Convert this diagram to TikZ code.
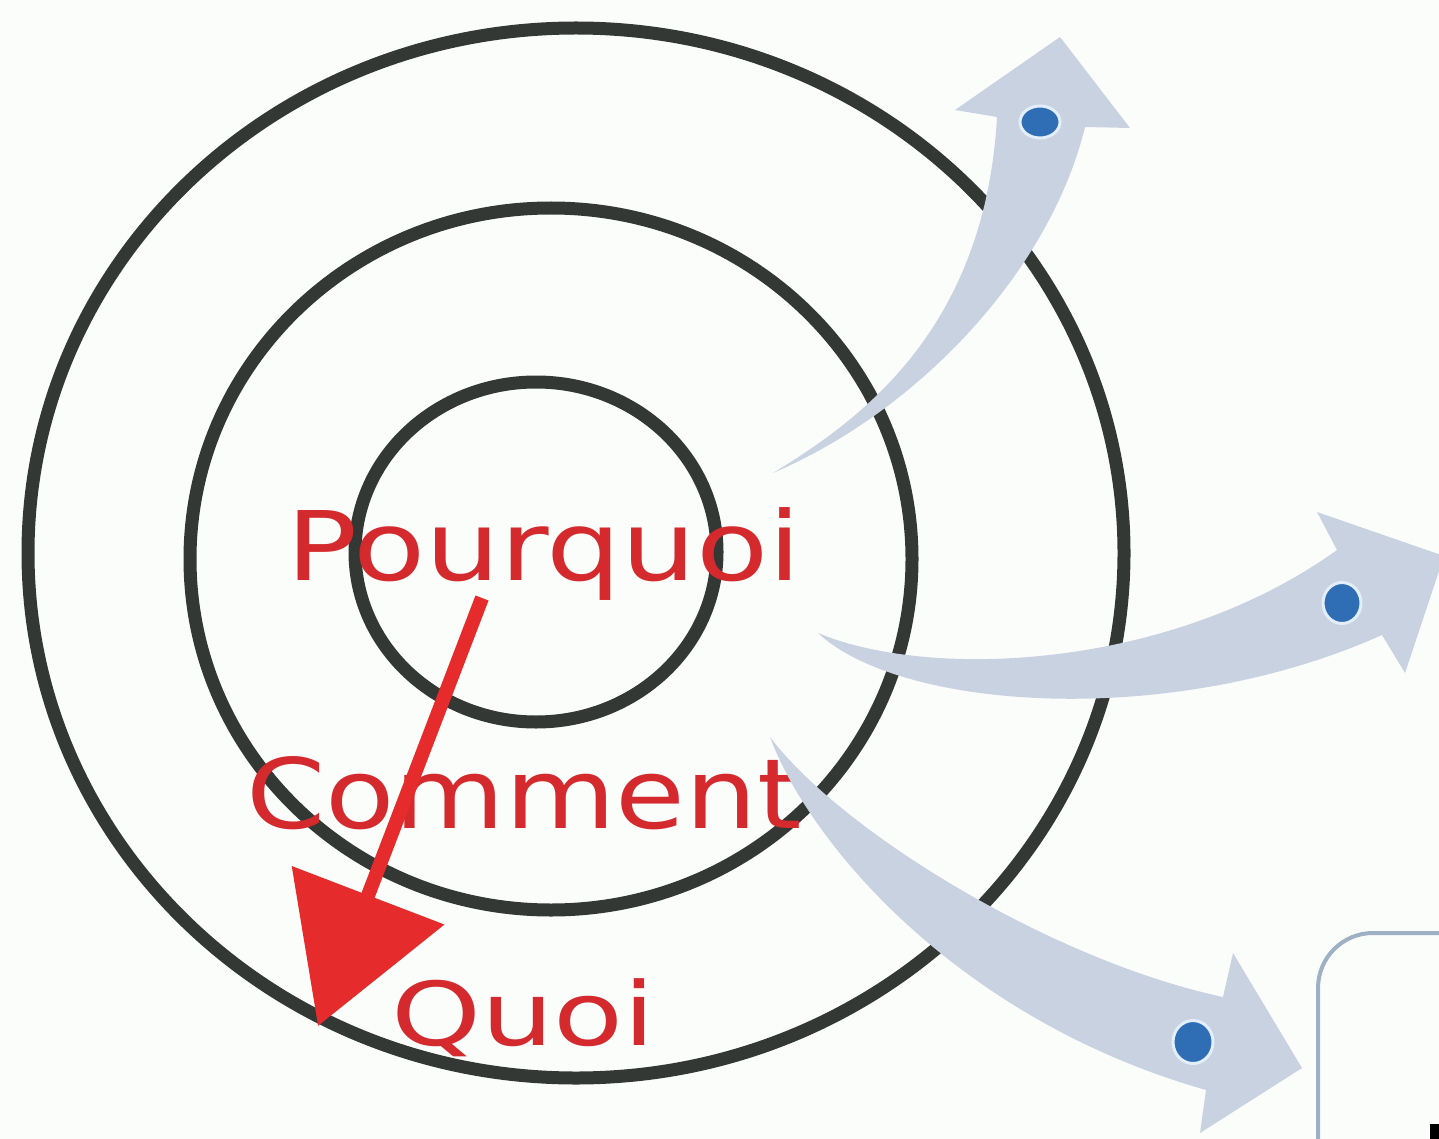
\documentclass[tikz,border=0pt]{standalone}
\usepackage{fontspec}
\setmainfont{DejaVu Sans}
\usetikzlibrary{arrows.meta,shapes.geometric}
\definecolor{ring}{HTML}{333835}
\definecolor{redtxt}{HTML}{D42A2E}
\definecolor{redarr}{HTML}{E52B2B}
\definecolor{arrowfill}{HTML}{C9D2E0}
\definecolor{dotblue}{HTML}{2F6DB5}
\definecolor{dotrim}{HTML}{E2EEF9}
\definecolor{boxline}{HTML}{9DB0C4}
\definecolor{bg}{HTML}{FBFDFB}
\begin{document}
\begin{tikzpicture}[x=1pt,y=-1pt,
  ringline/.style={draw=ring,line width=13pt},
  word/.style={text=redtxt,anchor=base west,inner sep=0pt},
  bluearrow/.style={fill=arrowfill},
  bluedot/.style={ellipse,fill=dotblue,draw=dotrim,line width=3pt,inner sep=0pt}]
\fill[bg] (0,0) rectangle (1439,1139);
\useasboundingbox (0,0) rectangle (1439,1139);
\clip (0,0) rectangle (1439,1139);
% rings
\draw[ringline] (576,553) ellipse [x radius=548pt, y radius=525pt];
\draw[ringline] (551,559) ellipse [x radius=361pt, y radius=351pt];
\draw[ringline] (536,552) ellipse [x radius=181pt, y radius=170pt];
% words
\node[word] (pq) at (286,580) {\fontsize{96}{96}\selectfont\scalebox{1.23}[1]{Pourquoi}};
\node[word] (cm) at (246,828) {\fontsize{97}{97}\selectfont\scalebox{1.17}[1]{Comment}};
\node[word] (qu) at (391,1045) {\fontsize{88}{88}\selectfont\scalebox{1.3}[1]{Quoi}};
% red arrow
\coordinate (ras) at (482,598);
\coordinate (rat) at (318,1026);
\draw[redarr,line width=14pt,-{Triangle[width=160pt,length=140pt]}] (ras) -- (rat);
% blue arrow 1
\coordinate (a1tail) at (773,473);
\coordinate (a1tip) at (1060,37);
\fill[bluearrow] (a1tail) .. controls (860,420) and (985,330) .. (997,117)
  -- (955,110) -- (a1tip) -- (1130,128) -- (1085,127)
  .. controls (1050,270) and (920,410) .. (a1tail) -- cycle;
% blue arrow 2
\coordinate (a2tail) at (818,633);
\coordinate (a2tip) at (1444,556);
\fill[bluearrow] (a2tail) .. controls (930,680) and (1170,670) .. (1337,550)
  -- (1317,512) -- (a2tip) -- (1405,673) -- (1382,635)
  .. controls (1170,730) and (900,710) .. (a2tail) -- cycle;
% blue arrow 3
\coordinate (a3tail) at (770,737);
\coordinate (a3tip) at (1302,1068);
\fill[bluearrow] (a3tail) .. controls (840,830) and (1050,960) .. (1223,997)
  -- (1233,953) -- (a3tip) -- (1200,1133) -- (1206,1090)
  .. controls (960,1020) and (810,845) .. (a3tail) -- cycle;
% dots
\node[bluedot,minimum width=40pt,minimum height=32pt] (d1) at (1040,122) {};
\node[bluedot,minimum width=38pt,minimum height=41pt] (d2) at (1342,603) {};
\node[bluedot,minimum width=40pt,minimum height=43pt] (d3) at (1193,1042) {};
% partial box
\draw[boxline,line width=4pt,rounded corners=55pt] (1318,1180) -- (1318,933) -- (1480,933);
\fill[black] (1430,1124) rectangle (1439,1139);
\end{tikzpicture}
\end{document}
